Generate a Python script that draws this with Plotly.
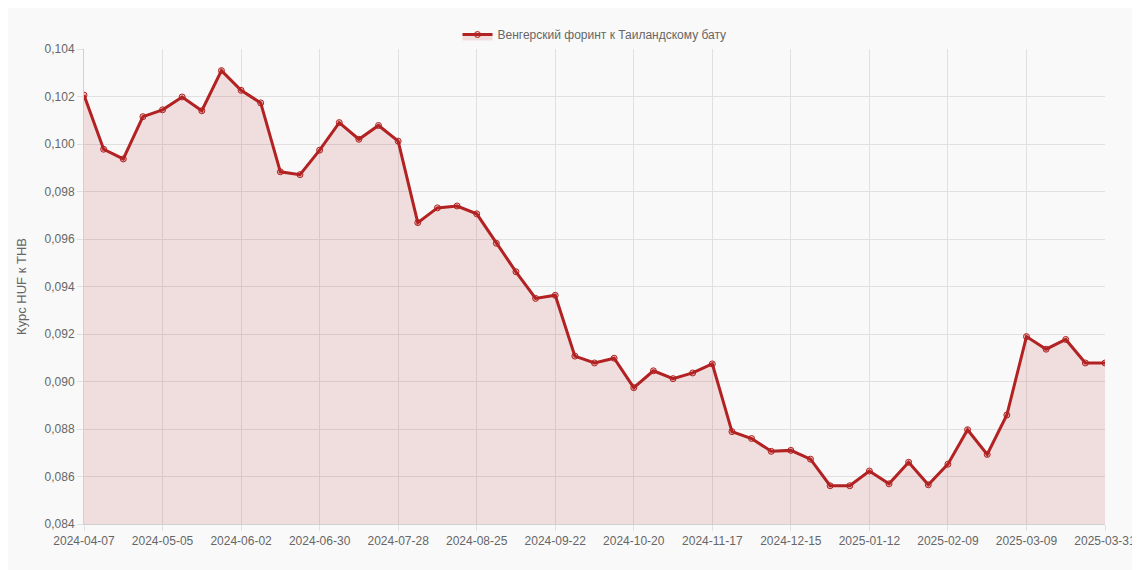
import pandas as pd
import plotly.graph_objects as go

# weekly dates + final day
dates = [d.strftime('%Y-%m-%d') for d in pd.date_range('2024-04-07', '2025-03-30', freq='7D')] + ['2025-03-31']

rates = [0.10206, 0.09978, 0.09937, 0.10115, 0.10144, 0.10198, 0.10140, 0.10309,
         0.10226, 0.10173, 0.09883, 0.09871, 0.09974, 0.10090, 0.10020, 0.10078,
         0.10012, 0.09669, 0.09731, 0.09739, 0.09706, 0.09582, 0.09462, 0.09350,
         0.09363, 0.09107, 0.09078, 0.09098, 0.08974, 0.09045, 0.09012, 0.09036,
         0.09074, 0.08789, 0.08760, 0.08706, 0.08710, 0.08673, 0.08561, 0.08561,
         0.08623, 0.08569, 0.08660, 0.08565, 0.08652, 0.08797, 0.08693, 0.08859,
         0.09189, 0.09136, 0.09177, 0.09078, 0.09078]

tick_labels = dates[::4] + [dates[-1]]

fig = go.Figure()
fig.add_trace(go.Scatter(
    x=dates, y=rates, mode='lines+markers',
    name='Венгерский форинт к Таиландскому бату',
    line=dict(color='#b22222', width=3),
    marker=dict(size=6, color='rgba(178,34,34,0.25)', line=dict(color='#b22222', width=1)),
    fill='tozeroy', fillcolor='rgba(178,34,34,0.12)',
))
fig.update_layout(
    width=1140, height=570,
    margin=dict(l=68, r=34, t=32, b=54),
    paper_bgcolor='#f9f9f9', plot_bgcolor='#f9f9f9',
    font=dict(family='Liberation Sans, Arial', size=12, color='#666'),
    showlegend=True,
    legend=dict(orientation='h', x=0.5, xanchor='center', y=1.0, yanchor='bottom',
                font=dict(size=12, color='#666')),
    xaxis=dict(type='category', tickvals=tick_labels, ticktext=tick_labels,
               showgrid=True, gridcolor='#e0e0e0', linecolor='#d0d0d0',
               ticks='outside', tickcolor='#e0e0e0', ticklen=6, range=[0, len(dates) - 1]),
    yaxis=dict(title=dict(text='Курс HUF к THB', font=dict(size=13)),
               range=[0.084, 0.104], dtick=0.002, tickformat='.3f',
               showgrid=True, gridcolor='#e0e0e0', linecolor='#d0d0d0',
               ticks='outside', tickcolor='#e0e0e0', ticklen=6, zeroline=False),
    separators=',.',
)
fig.write_html('out.html')
